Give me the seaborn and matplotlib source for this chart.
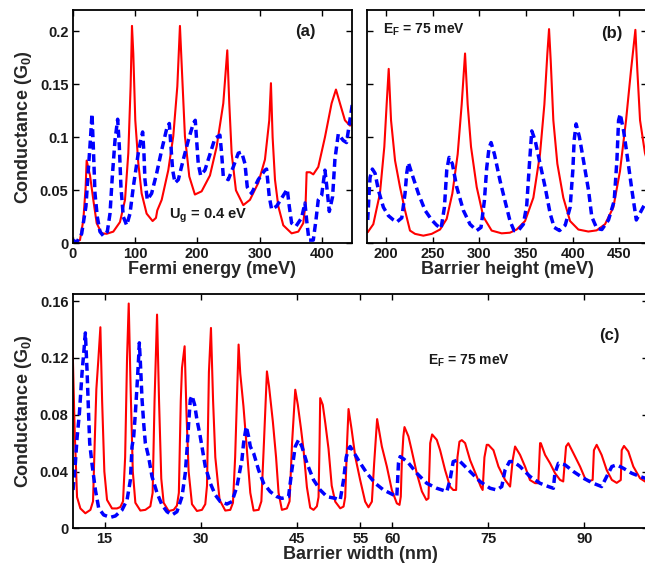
import matplotlib
matplotlib.use("Agg")
import matplotlib.pyplot as plt
import seaborn as sns

# ---------------- panel (a): conductance vs Fermi energy ----------------
fermi_red = [0, 11.7, 17.1, 20.8, 22.4, 27.8, 33.1, 38.5, 46.5, 54.5, 65.2, 75.9, 84, 89.3, 93,
             95.2, 97.3, 100.5, 105.3, 110.7, 118.7, 128.3, 133.7, 135.8, 142.9, 153.5, 161.5, 168,
             172.2, 175.4, 180.2, 187.2, 196.2, 207, 220.4, 231.1, 241.8, 248.2, 251.4, 255.2, 262.1,
             273.9, 284.6, 298, 308.7, 315.6, 318.3, 321, 324.8, 330.1, 338.1, 351.5, 362.2, 370.2,
             374, 375.6, 381, 386.3, 394.3, 405, 415.7, 422.7, 429.1, 437.1, 445.2, 450]
cond_a_red = [0.0006, 0.003, 0.022, 0.053, 0.078, 0.064, 0.041, 0.019, 0.0094, 0.009, 0.011, 0.020,
              0.041, 0.085, 0.148, 0.205, 0.179, 0.116, 0.076, 0.047, 0.028, 0.021, 0.024, 0.031,
              0.041, 0.069, 0.101, 0.148, 0.205, 0.163, 0.101, 0.063, 0.046, 0.049, 0.064, 0.091,
              0.132, 0.182, 0.132, 0.085, 0.050, 0.036, 0.041, 0.057, 0.079, 0.116, 0.151, 0.100,
              0.060, 0.035, 0.017, 0.0094, 0.011, 0.019, 0.038, 0.067, 0.067, 0.065, 0.072, 0.100,
              0.132, 0.145, 0.132, 0.116, 0.111, 0.113]

fermi_blue = [0, 6.4, 14.4, 21.3, 25.1, 28.8, 31, 33.1, 35.8, 39.5, 43.8, 49.2, 55.6, 59.9, 63.6,
              67.9, 72.2, 74.9, 77.5, 81.3, 86.7, 92, 97.3, 105.3, 109.1, 112.3, 114.4, 116, 119.8,
              126.7, 134.8, 142.9, 150.9, 155.1, 157.8, 160.5, 164.3, 169.6, 177.6, 185.6, 193.6,
              196.8, 199, 201.6, 205.4, 212.3, 220.4, 228.4, 236.4, 239.1, 241.8, 249.8, 257.8,
              265.9, 271.2, 276.6, 280.3, 287.2, 297.9, 308.7, 311.3, 315.6, 319.4, 327.4, 337,
              344.5, 347.7, 351.5, 358.4, 367.5, 372.9, 375.6, 379.3, 386.3, 390.6, 394.3, 399.7,
              405, 407.7, 412, 417.3, 421, 426.4, 434.4, 439.7, 445.1, 449.4]
cond_a_blue = [0.003, 0.001, 0.009, 0.035, 0.069, 0.101, 0.122, 0.091, 0.047, 0.025, 0.011, 0.007,
               0.011, 0.028, 0.063, 0.097, 0.117, 0.091, 0.053, 0.025, 0.017, 0.028, 0.053, 0.085,
               0.097, 0.105, 0.085, 0.060, 0.041, 0.047, 0.066, 0.088, 0.108, 0.113, 0.091, 0.069,
               0.057, 0.060, 0.079, 0.097, 0.113, 0.116, 0.097, 0.075, 0.064, 0.069, 0.084, 0.099,
               0.102, 0.085, 0.063, 0.060, 0.072, 0.085, 0.086, 0.075, 0.053, 0.047, 0.060, 0.069,
               0.070, 0.044, 0.032, 0.035, 0.044, 0.051, 0.035, 0.019, 0.016, 0.024, 0.038, 0.022,
               0.003, 0.003, 0.022, 0.041, 0.045, 0.069, 0.055, 0.030, 0.044, 0.079, 0.103, 0.097,
               0.095, 0.116, 0.133]

# ---------------- panel (b): conductance vs barrier height ----------------
height_red = [180.4, 186.4, 193.5, 198.2, 200.7, 202.9, 205.4, 209.7, 215, 220.4, 225.7, 231.1, 240,
              249, 257.9, 265, 271.1, 276.8, 281.1, 284.7, 287.5, 291.1, 297.2, 304.3, 313.2, 323.9,
              332.8, 340, 349, 357.9, 365, 369.7, 372.9, 374.7, 376.5, 379.3, 383.6, 390, 397.2,
              406.1, 416.8, 425.7, 434.7, 443.6, 450.7, 457.2, 462.5, 467.2, 469.3, 472.2, 477.5,
              481]
cond_b_red = [0.0104, 0.018, 0.047, 0.091, 0.131, 0.1645, 0.116, 0.078, 0.053, 0.031, 0.012, 0.0089,
              0.0072, 0.0089, 0.013, 0.023, 0.047, 0.084, 0.131, 0.179, 0.131, 0.091, 0.053, 0.025,
              0.012, 0.0094, 0.010, 0.013, 0.021, 0.043, 0.084, 0.131, 0.179, 0.202, 0.172, 0.116,
              0.075, 0.043, 0.021, 0.013, 0.0111, 0.0122, 0.018, 0.034, 0.068, 0.116, 0.163, 0.2013,
              0.163, 0.116, 0.085, 0.075]

height_blue = [180.4, 181.9, 182.9, 185.4, 188.3, 191.9, 197.2, 202.6, 208, 211.5, 216.9, 220.4,
               222.2, 224, 227.6, 234.7, 241.9, 249, 254.4, 259, 262.6, 265.1, 267.6, 271.1, 275.8,
               282.9, 290, 297.2, 301.8, 305.4, 307.9, 310.4, 312.6, 316.2, 322.2, 327.5, 332.9,
               337.2, 341.8, 347.2, 350.8, 353.7, 356.2, 359.8, 365.1, 370.5, 375.9, 380.2, 385.9,
               392, 397.3, 400.2, 401.6, 403.7, 407.3, 411.6, 417, 420.5, 425.9, 431.3, 438.4,
               444.5, 447.4, 449.2, 451, 454.6, 458.2, 463.5, 468.2, 472.5, 476.1, 481]
cond_b_blue = [0.022, 0.047, 0.062, 0.070, 0.066, 0.050, 0.034, 0.026, 0.022, 0.020, 0.024, 0.047,
               0.066, 0.076, 0.066, 0.047, 0.031, 0.022, 0.017, 0.014, 0.034, 0.069, 0.081, 0.075,
               0.053, 0.031, 0.018, 0.012, 0.015, 0.040, 0.071, 0.090, 0.095, 0.084, 0.059, 0.040,
               0.021, 0.012, 0.012, 0.018, 0.036, 0.075, 0.106, 0.097, 0.075, 0.053, 0.028, 0.015,
               0.012, 0.017, 0.034, 0.069, 0.097, 0.1126, 0.100, 0.078, 0.050, 0.025, 0.014, 0.013,
               0.022, 0.040, 0.078, 0.116, 0.122, 0.106, 0.084, 0.050, 0.022, 0.029, 0.035, 0.042]

# ---------------- panel (c): conductance vs barrier width ----------------
width_red = [10.0, 10.3, 10.68, 11.2, 11.98, 12.77, 13.18, 13.44, 13.7, 14.0, 14.33, 14.6, 14.95,
             15.37, 16.15, 16.93, 17.45, 17.87, 18.2, 18.5, 18.76, 19.05, 19.4, 19.8, 20.58, 21.36,
             22.14, 22.5, 22.8, 23.19, 23.5, 23.85, 24.22, 25.0, 25.79, 26.3, 26.6, 26.9, 27.09,
             27.5, 27.8, 28.13, 28.65, 29.43, 30.21, 30.73, 31.0, 31.3, 31.62, 31.95, 32.3, 32.97,
             33.86, 34.64, 35.06, 35.4, 35.94, 36.2, 36.7, 37.25, 37.77, 38.29, 39.07, 39.5, 39.9,
             40.37, 40.7, 41.3, 41.8, 42.19, 42.71, 43.49, 43.91, 44.3, 44.8, 45.2, 45.7, 46.1,
             46.62, 47.14, 47.66, 48.18, 48.44, 48.6, 48.7, 49.1, 49.5, 50.0, 50.5, 51.05, 51.83,
             52.35, 52.61, 52.9, 53.13, 53.6, 54.2, 54.95, 55.73, 56.25, 56.78, 57.14, 57.6, 58.34,
             59.12, 59.9, 60.68, 61.1, 61.3, 61.46, 61.7, 61.88, 62.5, 63.0, 63.8, 64.6, 65.3,
             65.63, 65.9, 66.2, 66.93, 67.45, 68.23, 69.0, 69.5, 69.95, 70.16, 70.47, 70.84, 71.36,
             72.14, 73.18, 73.8, 74.1, 74.38, 74.74, 75.0, 75.79, 76.57, 77.61, 78.39, 78.8, 79.17,
             79.95, 80.73, 81.5, 82.3, 82.8, 83.08, 83.2, 83.86, 84.64, 85.42, 86.2, 86.7, 87.14,
             87.5, 88.29, 89.33, 90.1, 90.63, 91.3, 91.5, 91.93, 92.7, 93.5, 94.3, 95.06, 95.7,
             95.84, 96.2, 96.88, 97.66, 98.7, 99.48, 100.5]
cond_c_red = [0.125, 0.07, 0.022, 0.014, 0.0106, 0.013, 0.019, 0.06, 0.098, 0.118, 0.1416, 0.09,
              0.04, 0.02, 0.014, 0.014, 0.015, 0.019, 0.05, 0.12, 0.1583, 0.10, 0.04, 0.018, 0.0125,
              0.013, 0.0155, 0.025, 0.09, 0.1505, 0.09, 0.035, 0.018, 0.0122, 0.013, 0.016, 0.025,
              0.09, 0.113, 0.1282, 0.08, 0.04, 0.017, 0.0122, 0.013, 0.017, 0.03, 0.11, 0.1411, 0.09,
              0.05, 0.02, 0.0125, 0.013, 0.018, 0.05, 0.1294, 0.109, 0.086, 0.055, 0.025, 0.0125,
              0.013, 0.019, 0.06, 0.1105, 0.10, 0.075, 0.05, 0.025, 0.013, 0.014, 0.019, 0.06,
              0.0976, 0.087, 0.07, 0.055, 0.029, 0.0145, 0.013, 0.0155, 0.022, 0.06, 0.0917, 0.087,
              0.074, 0.056, 0.03, 0.0188, 0.0141, 0.0153, 0.022, 0.06, 0.084, 0.07, 0.05, 0.034,
              0.0188, 0.0148, 0.0188, 0.046, 0.0769, 0.0576, 0.0435, 0.027, 0.0176, 0.0165, 0.0223,
              0.046, 0.0647, 0.0713, 0.0647, 0.055, 0.0388, 0.026, 0.020, 0.0211, 0.060, 0.0661,
              0.0623, 0.055, 0.041, 0.0294, 0.027, 0.027, 0.050, 0.061, 0.0621, 0.060, 0.048,
              0.0365, 0.0294, 0.027, 0.050, 0.0588, 0.0588, 0.055, 0.0435, 0.0341, 0.0294, 0.0482,
              0.0576, 0.0517, 0.0435, 0.034, 0.0318, 0.0318, 0.060, 0.0599, 0.0517, 0.0458, 0.0388,
              0.0341, 0.033, 0.0576, 0.0599, 0.0529, 0.0435, 0.0353, 0.033, 0.0341, 0.055, 0.0588,
              0.0517, 0.041, 0.0341, 0.032, 0.034, 0.055, 0.058, 0.0541, 0.0435, 0.0353, 0.033,
              0.032]

width_blue = [10.06, 10.42, 10.68, 11.05, 11.46, 11.83, 11.98, 12.24, 12.5, 12.66, 13.03, 13.55,
              14.07, 14.85, 15.89, 16.67, 17.71, 18.5, 19.02, 19.28, 19.54, 19.8, 20.06, 20.32,
              20.42, 20.58, 20.84, 21.1, 21.36, 21.88, 22.4, 23.18, 23.96, 24.75, 25.53, 26.3, 27.09,
              27.6, 27.87, 28.13, 28.39, 28.65, 29.07, 29.43, 29.85, 30.21, 30.73, 31.52, 32.3,
              33.08, 34.12, 34.9, 35.68, 36.46, 36.72, 36.88, 37.14, 37.5, 37.77, 38.29, 39.07,
              39.85, 40.89, 41.93, 42.71, 43.75, 44.27, 44.8, 45.32, 45.84, 46.62, 47.66, 48.7,
              49.75, 51.05, 51.83, 52.35, 52.77, 53.13, 53.39, 54.95, 56.0, 57.3, 58.6, 59.64,
              60.68, 60.94, 61.2, 61.7, 62.5, 63.8, 65.37, 66.93, 68.5, 69.0, 69.5, 70.32, 71.36,
              72.4, 73.7, 75.27, 76.3, 77.09, 77.6, 78.3, 78.9, 79.95, 81.5, 83.08, 84.38, 85.16,
              85.4, 85.94, 86.98, 88.29, 89.85, 91.41, 92.7, 93.5, 94.3, 95.06, 96.1, 97.4, 98.7,
              99.48, 100.5]
cond_c_blue = [0.027, 0.046, 0.0635, 0.0811, 0.1094, 0.129, 0.1376, 0.1117, 0.0788, 0.0599, 0.045,
               0.027, 0.0141, 0.0094, 0.0077, 0.0087, 0.0129, 0.020, 0.034, 0.0576, 0.0647, 0.0811,
               0.100, 0.121, 0.1306, 0.117, 0.091, 0.074, 0.060, 0.050, 0.0365, 0.025, 0.0165,
               0.0117, 0.0094, 0.0117, 0.0223, 0.0388, 0.055, 0.0741, 0.0906, 0.0934, 0.087, 0.0764,
               0.067, 0.0576, 0.0435, 0.0317, 0.0235, 0.0188, 0.0171, 0.0188, 0.0294, 0.0482, 0.060,
               0.0647, 0.0717, 0.0647, 0.0576, 0.0529, 0.041, 0.0317, 0.0258, 0.0223, 0.0211,
               0.0223, 0.041, 0.0576, 0.0623, 0.0576, 0.0459, 0.0341, 0.027, 0.0223, 0.0211, 0.020,
               0.034, 0.050, 0.056, 0.0576, 0.046, 0.0388, 0.0317, 0.027, 0.0247, 0.0223, 0.046,
               0.0505, 0.049, 0.046, 0.0388, 0.0317, 0.0282, 0.0259, 0.0341, 0.047, 0.0482, 0.0435,
               0.0388, 0.0329, 0.0282, 0.027, 0.0294, 0.041, 0.047, 0.047, 0.0435, 0.0365, 0.0317,
               0.0294, 0.0282, 0.0388, 0.0458, 0.0447, 0.040, 0.0353, 0.0317, 0.0294, 0.0365,
               0.0435, 0.0447, 0.0423, 0.0388, 0.0365, 0.0353, 0.0345]

# tick positions / labels
ticks_a_x = [0, 100, 200, 300, 400]
ticks_ab_y = [0, 0.05, 0.1, 0.15, 0.2]
labels_ab_y = ["0", "0.05", "0.1", "0.15", "0.2"]
ticks_b_x = [200, 250, 300, 350, 400, 450]
ticks_c_x = [15, 30, 45, 55, 60, 75, 90]
ticks_c_y = [0, 0.04, 0.08, 0.12, 0.16]
labels_c_y = ["0", "0.04", "0.08", "0.12", "0.16"]

sns.set_style("ticks")
plt.rcParams.update({
    "font.family": ["Liberation Sans", "DejaVu Sans"],
    "font.weight": "bold",
    "mathtext.fontset": "custom",
    "mathtext.rm": "Liberation Sans:bold",
    "mathtext.it": "Liberation Sans:bold",
    "mathtext.bf": "Liberation Sans:bold",
    "xtick.direction": "in",
    "ytick.direction": "in",
    "xtick.top": True,
    "ytick.right": True,
    "xtick.major.size": 4,
    "ytick.major.size": 4,
    "xtick.major.width": 1.0,
    "ytick.major.width": 1.0,
    "axes.linewidth": 1.3,
    "axes.edgecolor": "black",
    "text.color": "#1a1a1a",
    "xtick.color": "black",
    "ytick.color": "black",
    "xtick.labelcolor": "#1a1a1a",
    "ytick.labelcolor": "#1a1a1a",
})

RED = "#ff0000"
BLUE = "#0000ff"
red_kw = dict(color=RED, linewidth=1.5, estimator=None, sort=False, legend=False)
blue_kw = dict(color=BLUE, linewidth=2.5, estimator=None, sort=False, legend=False,
               linestyle=(0, (2.3, 1.3)))

fig = plt.figure(figsize=(6.45, 5.69), dpi=100)
ax_a = fig.add_axes([0.1127, 0.5724, 0.4326, 0.4100])
ax_b = fig.add_axes([0.5695, 0.5724, 0.4341, 0.4100])
ax_c = fig.add_axes([0.1127, 0.0715, 0.8924, 0.4118])

TICK_FS = 10.5
LABEL_FS = 13

# (a)
sns.lineplot(x=fermi_red, y=cond_a_red, ax=ax_a, **red_kw)
sns.lineplot(x=fermi_blue, y=cond_a_blue, ax=ax_a, **blue_kw)
ax_a.set_xlim(0, 448)
ax_a.set_ylim(0, 0.22)
ax_a.set_xticks(ticks_a_x)
ax_a.set_xticklabels([str(t) for t in ticks_a_x])
ax_a.set_yticks(ticks_ab_y)
ax_a.set_yticklabels(labels_ab_y)
ax_a.set_xlabel("Fermi energy (meV)", fontsize=LABEL_FS, fontweight="bold", labelpad=0)
ax_a.set_ylabel("Conductance (G$_0$)", fontsize=LABEL_FS, fontweight="bold", labelpad=4)
ax_a.text(0.833, 0.91, "(a)", transform=ax_a.transAxes, ha="center", va="center",
          fontsize=12, fontweight="bold")
ax_a.text(0.485, 0.117, "U$_g$ = 0.4 eV", transform=ax_a.transAxes, ha="center", va="center",
          fontsize=10.5, fontweight="bold")

# (b)
sns.lineplot(x=height_red, y=cond_b_red, ax=ax_b, **red_kw)
sns.lineplot(x=height_blue, y=cond_b_blue, ax=ax_b, **blue_kw)
ax_b.set_xlim(180, 480)
ax_b.set_ylim(0, 0.22)
ax_b.set_xticks(ticks_b_x)
ax_b.set_xticklabels([str(t) for t in ticks_b_x])
ax_b.set_yticks(ticks_ab_y)
ax_b.set_yticklabels([])
ax_b.set_xlabel("Barrier height (meV)", fontsize=LABEL_FS, fontweight="bold", labelpad=0)
ax_b.set_ylabel("")
ax_b.text(0.874, 0.9, "(b)", transform=ax_b.transAxes, ha="center", va="center",
          fontsize=12, fontweight="bold")
ax_b.text(0.056, 0.916, "E$_F$ = 75 meV", transform=ax_b.transAxes, ha="left", va="center",
          fontsize=10, fontweight="bold")

# (c)
sns.lineplot(x=width_red, y=cond_c_red, ax=ax_c, **red_kw)
sns.lineplot(x=width_blue, y=cond_c_blue, ax=ax_c, **blue_kw)
ax_c.set_xlim(10, 100)
ax_c.set_ylim(0, 0.165)
ax_c.set_xticks(ticks_c_x)
ax_c.set_xticklabels([str(t) for t in ticks_c_x])
ax_c.set_yticks(ticks_c_y)
ax_c.set_yticklabels(labels_c_y)
ax_c.set_xlabel("Barrier width (nm)", fontsize=LABEL_FS, fontweight="bold", labelpad=0)
ax_c.set_ylabel("Conductance (G$_0$)", fontsize=LABEL_FS, fontweight="bold", labelpad=4)
ax_c.text(0.933, 0.825, "(c)", transform=ax_c.transAxes, ha="center", va="center",
          fontsize=12, fontweight="bold")
ax_c.text(0.618, 0.714, "E$_F$ = 75 meV", transform=ax_c.transAxes, ha="left", va="center",
          fontsize=10, fontweight="bold")

for ax in (ax_a, ax_b, ax_c):
    ax.tick_params(labelsize=TICK_FS, pad=3)
    for lbl in ax.get_xticklabels() + ax.get_yticklabels():
        lbl.set_fontweight("bold")
    for sp in ax.spines.values():
        sp.set_visible(True)
        sp.set_linewidth(1.3)

fig.savefig("out.png", dpi=100)
